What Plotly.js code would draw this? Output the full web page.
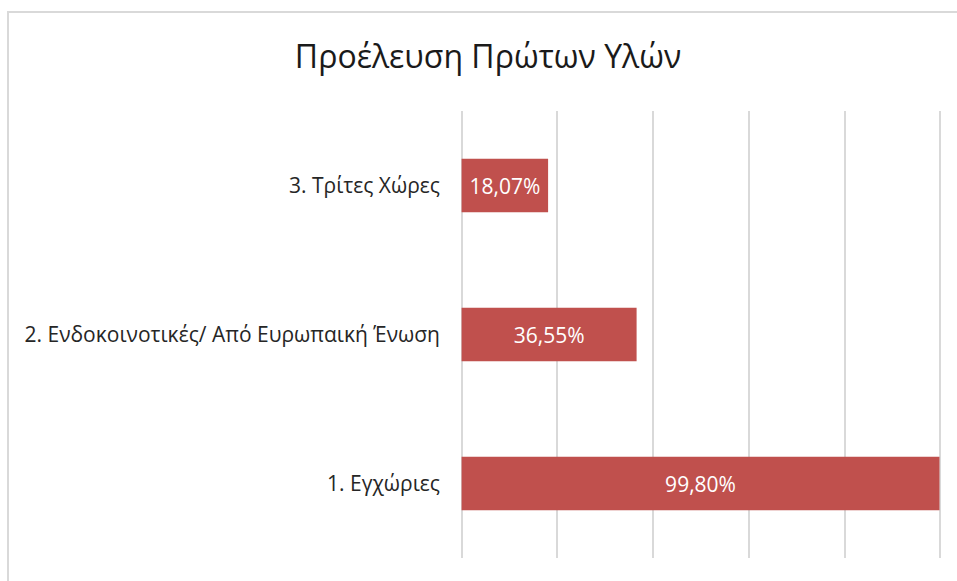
<!DOCTYPE html>
<html>
<head>
<meta charset="utf-8">
<script src="https://cdn.plot.ly/plotly-3.0.1.min.js"></script>
<style>
html,body{margin:0;padding:0;background:#fff;}
#wrap{position:relative;width:957px;height:581px;overflow:hidden;}
#chart{position:absolute;left:0;top:0;width:957px;height:581px;}
#frame{position:absolute;left:7px;top:11px;width:980px;height:600px;border-top:2px solid #d9d9d9;border-left:2px solid #d9d9d9;pointer-events:none;}
</style>
</head>
<body>
<div id="wrap"><div id="chart"></div><div id="frame"></div></div>
<script>
const categories = ['1. Εγχώριες', '2. Ενδοκοινοτικές/ Από Ευρωπαική Ένωση', '3. Τρίτες Χώρες'];
const values = [99.80, 36.55, 18.07];
const chartTitle = 'Προέλευση Πρώτων Υλών';

const trace = {
  type: 'bar',
  orientation: 'h',
  y: categories,
  x: values,
  marker: {color: '#C0504D'},
  texttemplate: '%{x:.2f}%',
  textposition: 'inside',
  insidetextanchor: 'middle',
  constraintext: 'none',
  textfont: {family: 'Open Sans, sans-serif', size: 21, color: '#ffffff'},
  hoverinfo: 'none',
  cliponaxis: true
};

const layout = {
  width: 957, height: 581,
  paper_bgcolor: '#ffffff', plot_bgcolor: '#ffffff',
  separators: ',.',
  margin: {l: 452, r: 7, t: 111, b: 23},
  title: {text: chartTitle, x: 0.51, xanchor: 'center', y: 0.902, yanchor: 'middle',
          font: {family: 'Open Sans, sans-serif', size: 32, color: '#1a1a1a'}},
  bargap: 0.64,
  showlegend: false,
  xaxis: {range: [-2, 102], tickvals: [0, 20, 40, 60, 80, 100], showticklabels: false, showgrid: true,
          gridcolor: '#d9d9d9', gridwidth: 2, zeroline: false, showline: false, ticks: ''},
  yaxis: {type: 'category', showgrid: false, zeroline: false, showline: false, ticks: '',
          ticklabelstandoff: 11,
          tickfont: {family: 'Open Sans, sans-serif', size: 21, color: '#262626'}}
};

Plotly.newPlot('chart', [trace], layout, {displayModeBar: false, staticPlot: true});
</script>
</body>
</html>
